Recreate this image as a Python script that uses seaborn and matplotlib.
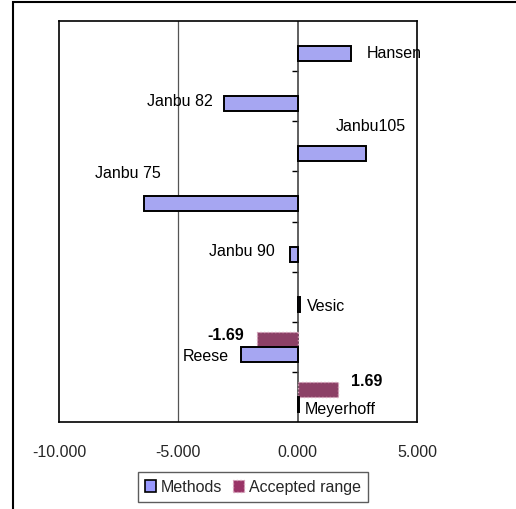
import seaborn as sns
import matplotlib.pyplot as plt
import matplotlib.patches as mpatches
from matplotlib.ticker import FormatStrFormatter
import pandas as pd

methods = ["Hansen", "Janbu 82", "Janbu105", "Janbu 75", "Janbu 90", "Vesic", "Reese", "Meyerhoff"]
method_values = [2.22, -3.10, 2.88, -6.44, -0.33, 0.08, -2.38, 0.07]
range_methods = ["Reese", "Meyerhoff"]
range_values = [-1.69, 1.69]
series = ["Accepted range", "Methods"]
legend_order = ["Methods", "Accepted range"]
x_ticks = [-10, -5, 0, 5]

colors = {"Methods": "#9999ff", "Accepted range": "#993366"}

# label placement (ha, dx, dy in pixels from bar end / bar centre)
name_pos = {
    "Hansen": ("left", 16, 1),
    "Janbu 82": ("right", -11, 3),
    "Janbu105": ("center", 4, 28),
    "Janbu 75": ("center", -16, 31),
    "Janbu 90": ("right", -15, 4),
    "Vesic": ("left", 7, -1),
    "Reese": ("right", -12, -1),
    "Meyerhoff": ("left", 5, -4),
}
range_pos = {"Reese": ("right", -13, 5), "Meyerhoff": ("left", 13, 9)}

rows = [[m, "Methods", v] for m, v in zip(methods, method_values)]
rows += [[m, "Accepted range", v] for m, v in zip(range_methods, range_values)]
df = pd.DataFrame(rows, columns=["Method", "Series", "Value"])

sns.set_style("white")
plt.rcParams["font.family"] = ["Liberation Sans", "DejaVu Sans"]
plt.rcParams["font.size"] = 11.5

fig = plt.figure(figsize=(5.16, 5.10), dpi=100)
ax = fig.add_axes([59 / 516, 1 - 423 / 510, 358 / 516, 401 / 510])

sns.barplot(data=df, y="Method", x="Value", hue="Series", order=methods,
            hue_order=series, palette=colors, orient="h", width=0.6,
            errorbar=None, ax=ax, legend=False)

for name, cont in zip(series, ax.containers):
    for p in cont:
        if name == "Methods":
            p.set_edgecolor("black")
            p.set_linewidth(1.4)
        else:
            p.set_edgecolor("#d9a3bb")
            p.set_linewidth(1.0)
            p.set_linestyle(":")

ax.set_xlim(-10, 5)
ax.set_ylim(len(methods) - 0.5, -0.5)
ax.set_xticks(x_ticks)
ax.xaxis.set_major_formatter(FormatStrFormatter("%.3f"))
ax.tick_params(axis="x", direction="out", length=4, width=1, color="black", pad=12, labelsize=11.5)
ax.set_yticks([])
ax.set_xlabel("")
ax.set_ylabel("")
for s in ax.spines.values():
    s.set_color("black")
    s.set_linewidth(1.2)

ax.axvline(-5, color="#555555", lw=0.9, zorder=0)
ax.axvline(0, color="#444444", lw=1.2, zorder=0.5)

# category boundary ticks on the zero axis
yax = ax.secondary_yaxis(2 / 3)
yax.set_yticks([i + 0.5 for i in range(len(methods) - 1)])
yax.set_yticklabels([])
yax.tick_params(direction="in", length=4, width=1, color="black")
for s in yax.spines.values():
    s.set_visible(False)

# data labels
meth_cont = ax.containers[series.index("Methods")]
for name, p in zip(methods, meth_cont):
    ha, dx, dy = name_pos[name]
    yc = p.get_y() + p.get_height() / 2
    xe = p.get_x() + p.get_width()
    ax.annotate(name, xy=(xe, yc), xytext=(dx, dy), textcoords="offset pixels",
                ha=ha, va="center", fontsize=11.5, color="black")

rng_cont = ax.containers[series.index("Accepted range")]
for name, v, p in zip(range_methods, range_values, rng_cont):
    ha, dx, dy = range_pos[name]
    yc = p.get_y() + p.get_height() / 2
    xe = p.get_x() + p.get_width()
    ax.annotate(f"{v:.2f}", xy=(xe, yc), xytext=(dx, dy), textcoords="offset pixels",
                ha=ha, va="center", fontsize=11.5, fontweight="bold", color="black")

handles = [mpatches.Patch(facecolor=colors["Methods"], edgecolor="black", lw=1.2),
           mpatches.Patch(facecolor=colors["Accepted range"], edgecolor="#d9a3bb", lw=1.0, ls=":")]
leg = fig.legend(handles, legend_order, loc="center", bbox_to_anchor=(253 / 516, 1 - 488 / 510),
                 ncol=2, frameon=True, fancybox=False, edgecolor="#333333",
                 handlelength=0.7, handleheight=0.7, handletextpad=0.3, columnspacing=0.7,
                 borderpad=0.45, borderaxespad=0, fontsize=11.5)
leg.get_frame().set_linewidth(1.0)

# outer chart border
fig.patches.append(mpatches.Rectangle((13 / 516, -0.1), 1.2, 1.1 - 3 / 510,
                                      transform=fig.transFigure, fill=False,
                                      edgecolor="black", lw=1.5))

fig.savefig("out.png", dpi=100)
